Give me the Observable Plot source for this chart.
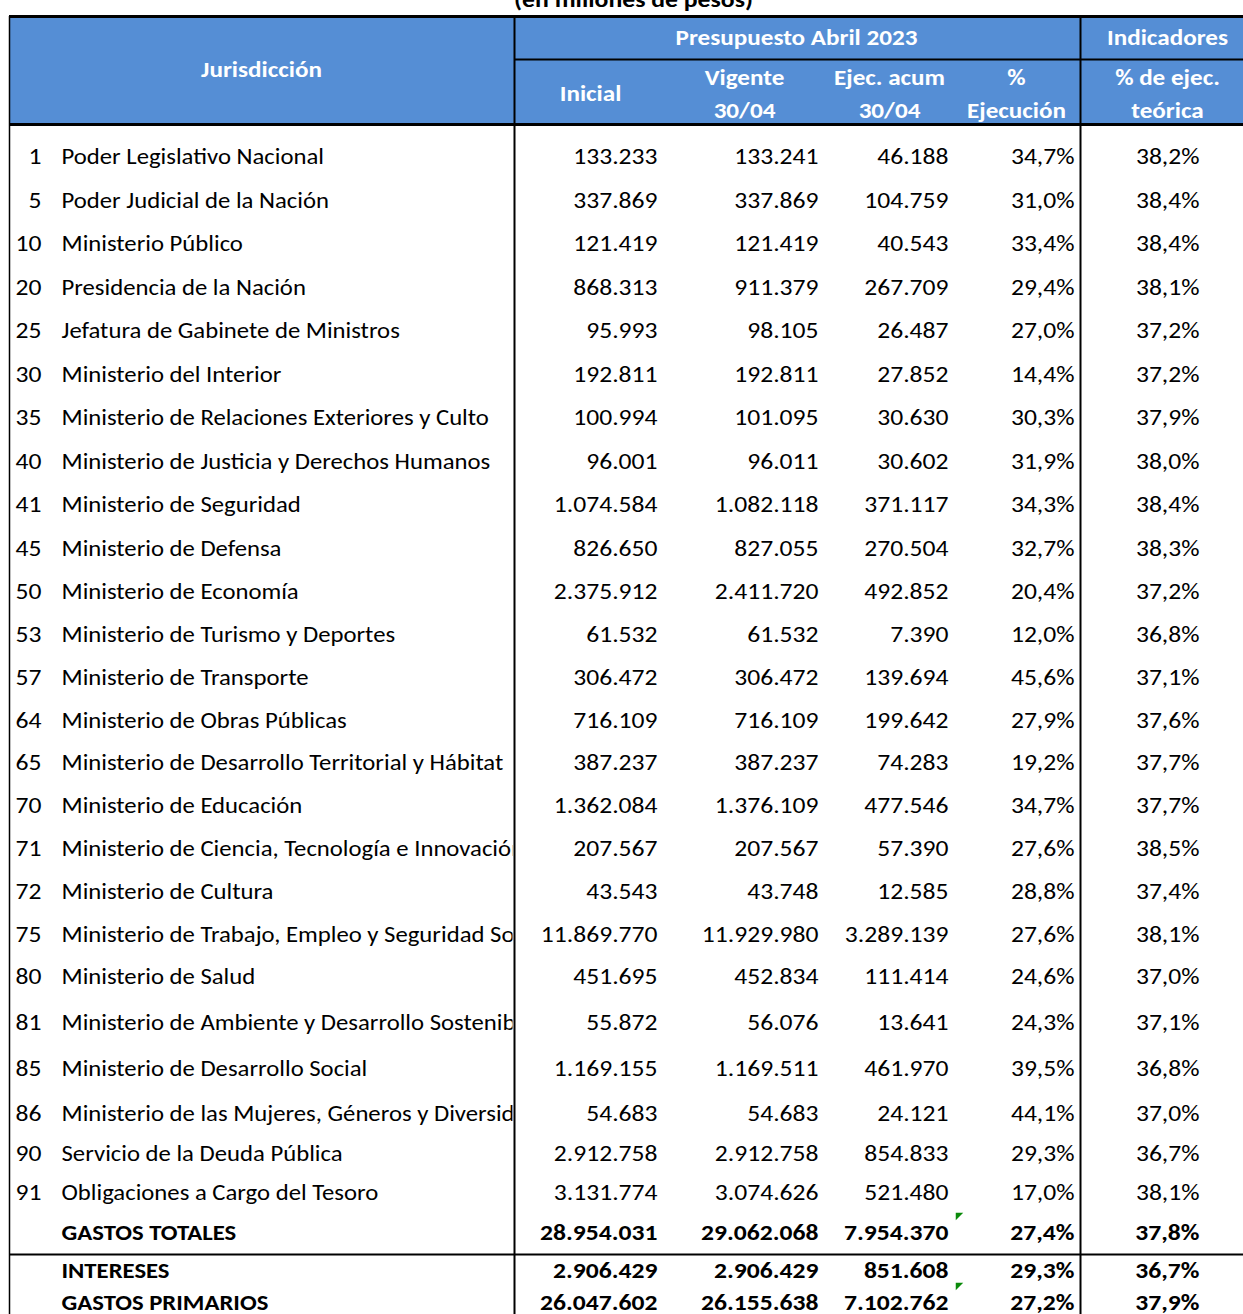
<!DOCTYPE html>
<html>
<head>
<meta charset="utf-8">
<script src="https://cdn.jsdelivr.net/npm/d3@7"></script>
<script src="https://cdn.jsdelivr.net/npm/@observablehq/plot@0.6"></script>
<style>
  html, body { margin: 0; padding: 0; background: #fff; }
  #chart svg { display: block; }
</style>
</head>
<body>
<div id="chart"></div>
<script>
// ---------------- DATA ----------------
const title = "(en millones de pesos)";
const groupHeaders = ["Presupuesto Abril 2023", "Indicadores"];
const rowHeader = "Jurisdicción";
const columnHeaders = ["Inicial", "Vigente\n30/04", "Ejec. acum\n30/04", "%\nEjecución", "% de ejec.\nteórica"];

const codes = [1, 5, 10, 20, 25, 30, 35, 40, 41, 45, 50, 53, 57, 64, 65, 70, 71, 72, 75, 80, 81, 85, 86, 90, 91];
const names = [
  "Poder Legislativo Nacional",
  "Poder Judicial de la Nación",
  "Ministerio Público",
  "Presidencia de la Nación",
  "Jefatura de Gabinete de Ministros",
  "Ministerio del Interior",
  "Ministerio de Relaciones Exteriores y Culto",
  "Ministerio de Justicia y Derechos Humanos",
  "Ministerio de Seguridad",
  "Ministerio de Defensa",
  "Ministerio de Economía",
  "Ministerio de Turismo y Deportes",
  "Ministerio de Transporte",
  "Ministerio de Obras Públicas",
  "Ministerio de Desarrollo Territorial y Hábitat",
  "Ministerio de Educación",
  "Ministerio de Ciencia, Tecnología e Innovación",
  "Ministerio de Cultura",
  "Ministerio de Trabajo, Empleo y Seguridad Social",
  "Ministerio de Salud",
  "Ministerio de Ambiente y Desarrollo Sostenible",
  "Ministerio de Desarrollo Social",
  "Ministerio de las Mujeres, Géneros y Diversidad",
  "Servicio de la Deuda Pública",
  "Obligaciones a Cargo del Tesoro"
];
const inicial = [133233, 337869, 121419, 868313, 95993, 192811, 100994, 96001, 1074584, 826650, 2375912, 61532, 306472, 716109, 387237, 1362084, 207567, 43543, 11869770, 451695, 55872, 1169155, 54683, 2912758, 3131774];
const vigente = [133241, 337869, 121419, 911379, 98105, 192811, 101095, 96011, 1082118, 827055, 2411720, 61532, 306472, 716109, 387237, 1376109, 207567, 43748, 11929980, 452834, 56076, 1169511, 54683, 2912758, 3074626];
const ejecAcum = [46188, 104759, 40543, 267709, 26487, 27852, 30630, 30602, 371117, 270504, 492852, 7390, 139694, 199642, 74283, 477546, 57390, 12585, 3289139, 111414, 13641, 461970, 24121, 854833, 521480];
const pctEjec = [34.7, 31.0, 33.4, 29.4, 27.0, 14.4, 30.3, 31.9, 34.3, 32.7, 20.4, 12.0, 45.6, 27.9, 19.2, 34.7, 27.6, 28.8, 27.6, 24.6, 24.3, 39.5, 44.1, 29.3, 17.0];
const pctTeorica = [38.2, 38.4, 38.4, 38.1, 37.2, 37.2, 37.9, 38.0, 38.4, 38.3, 37.2, 36.8, 37.1, 37.6, 37.7, 37.7, 38.5, 37.4, 38.1, 37.0, 37.1, 36.8, 37.0, 36.7, 38.1];

const totalNames = ["GASTOS TOTALES", "INTERESES", "GASTOS PRIMARIOS"];
const totalInicial = [28954031, 2906429, 26047602];
const totalVigente = [29062068, 2906429, 26155638];
const totalEjec = [7954370, 851608, 7102762];
const totalPctEjec = [27.4, 29.3, 27.2];
const totalPctTeorica = [37.8, 36.7, 37.9];
const totalFlagged = [true, false, true]; // green error-indicator triangles

// ---------------- LAYOUT (row units on y, pixels on x) ----------------
const BLUE = "#558ed5";
const FONT = "Carlito, Calibri, Lato, sans-serif";
const FS = 21.5;
const numX = [657, 818, 948, 1074, 1199];     // right edges of the numeric columns
const headX = [590, 744, 889, 1016, 1167];     // centers of the column headers
const groupX = [796, 1167];
const Y = { title: -3.63, top: -3.241, mid: -2.253, group: -2.736, sub: -1.53, jur: -2.0, bottom: -0.759, sep: 25.553, end: 27.4 };
// spreadsheet rows have slightly uneven heights: piecewise row scale
const rowDomain = [0, 10, 19, 22, 24, 25, 26, 27];
const rowRange = [157, 592, 977, 1114, 1193, 1233, 1271, 1303];
const STRETCH = { names: 1.15, num: 1.19, other: 1.17 };

// ---------------- TABLE ----------------
const rows = codes.map((c, i) => ({
  row: i, code: c, name: names[i], bold: false, flag: false,
  v: [inicial[i], vigente[i], ejecAcum[i], pctEjec[i], pctTeorica[i]]
}));
totalNames.forEach((n, j) => rows.push({
  row: codes.length + j, code: "", name: n, bold: true, flag: totalFlagged[j],
  v: [totalInicial[j], totalVigente[j], totalEjec[j], totalPctEjec[j], totalPctTeorica[j]]
}));

const loc = d3.formatLocale({ decimal: ",", thousands: ".", grouping: [3], currency: ["$", ""] });
const fInt = loc.format(",d");
const fPct = v => loc.format(",.1f")(v) + "%";
const fmt = (k, v) => (k >= 3 ? fPct(v) : fInt(v));

const body = rows.filter(d => !d.bold);
const totals = rows.filter(d => d.bold);

const triangle = {
  draw(ctx, size) {
    const s = Math.sqrt(size);
    ctx.moveTo(-s / 2, -s / 2);
    ctx.lineTo(s / 2, -s / 2);
    ctx.lineTo(-s / 2, s / 2);
    ctx.closePath();
  }
};

// text marks, in drawing order, each tagged with a stretch group
const textMarks = [];
const textKinds = [];
function addText(kind, mark) { textMarks.push(mark); textKinds.push(kind); }

addText("other", Plot.text([title], { x: 633, y: Y.title, text: d => d, fontSize: 22, fontWeight: "bold", fill: "#000" }));
addText("other", Plot.text([rowHeader], { x: 261, y: Y.jur, text: d => d, fontSize: FS, fontWeight: "bold", fill: "#fff" }));
addText("other", Plot.text(groupHeaders, { x: (d, i) => groupX[i], y: Y.group, text: d => d, fontSize: FS, fontWeight: "bold", fill: "#fff" }));
addText("other", Plot.text(columnHeaders, { x: (d, i) => headX[i], y: Y.sub, text: d => d, fontSize: FS, fontWeight: "bold", fill: "#fff", lineHeight: 1.53 }));
addText("num", Plot.text(body, { x: () => 41, y: "row", text: "code", textAnchor: "end", fontSize: FS, fill: "#000" }));
addText("names", Plot.text(body, { x: () => 61, y: "row", text: "name", textAnchor: "start", fontSize: FS, fill: "#000" }));
addText("names", Plot.text(totals, { x: () => 61, y: "row", text: "name", textAnchor: "start", fontSize: FS, fontWeight: "bold", fill: "#000" }));
[0, 1, 2, 3, 4].forEach(k => {
  addText("num", Plot.text(body, { x: () => numX[k], y: "row", text: d => fmt(k, d.v[k]), textAnchor: "end", fontSize: FS, fill: "#000" }));
  addText("num", Plot.text(totals, { x: () => numX[k], y: "row", text: d => fmt(k, d.v[k]), textAnchor: "end", fontSize: FS, fontWeight: "bold", fill: "#000" }));
});

const chart = Plot.plot({
  width: 1243,
  height: 1314,
  margin: 0,
  x: { type: "linear", domain: [0, 1243], range: [0, 1243], axis: null },
  y: { type: "linear", domain: rowDomain, range: rowRange, axis: null },
  style: { fontFamily: FONT, background: "#fff" },
  marks: [
    // header fill
    Plot.rect([0], { x1: 9, x2: 1243, y1: Y.top, y2: Y.bottom, fill: BLUE }),
    // rules
    Plot.ruleY([Y.top], { x1: 9, x2: 1243, stroke: "#000", strokeWidth: 3 }),
    Plot.ruleY([Y.mid], { x1: 514, x2: 1243, stroke: "#000", strokeWidth: 2 }),
    Plot.ruleY([Y.bottom], { x1: 9, x2: 1243, stroke: "#000", strokeWidth: 3 }),
    Plot.ruleY([Y.sep], { x1: 9, x2: 1243, stroke: "#000", strokeWidth: 2 }),
    Plot.ruleX([9], { y1: Y.top, y2: Y.end, stroke: "#000", strokeWidth: 1.5 }),
    // all texts
    ...textMarks,
    // column borders drawn above the (clipped) names
    Plot.ruleX([514, 1080], { y1: Y.top, y2: Y.end, stroke: "#000", strokeWidth: 2 }),
    // Excel error indicators
    Plot.dot(totals.filter(d => d.flag), { x: () => 959, y: "row", dy: -17, symbol: triangle, r: 4.2, fill: "#0a8a0a", stroke: "none" })
  ]
});

// text mark groups appear in the same order as textMarks
const NS = "http://www.w3.org/2000/svg";
const defs = document.createElementNS(NS, "defs");
const cp = document.createElementNS(NS, "clipPath");
cp.setAttribute("id", "nameclip");
const cr = document.createElementNS(NS, "rect");
cr.setAttribute("x", 0); cr.setAttribute("y", 0); cr.setAttribute("width", 512); cr.setAttribute("height", 1314);
cp.appendChild(cr); defs.appendChild(cp); chart.insertBefore(defs, chart.firstChild);

const textGroups = Array.from(chart.querySelectorAll(":scope > g")).filter(g => g.querySelector("text"));
textGroups.forEach((g, i) => {
  const kind = textKinds[i] || "other";
  const s = STRETCH[kind];
  // widen the glyphs (the spreadsheet font is broader than the fallback), around each text's anchor
  g.querySelectorAll("text").forEach(t => {
    const tr = t.getAttribute("transform");
    if (tr) t.setAttribute("transform", tr + ` scale(${s},1)`);
  });
  // clip long names at the column border, as a spreadsheet does
  if (kind === "names") g.setAttribute("clip-path", "url(#nameclip)");
});

document.getElementById("chart").appendChild(chart);
</script>
</body>
</html>
